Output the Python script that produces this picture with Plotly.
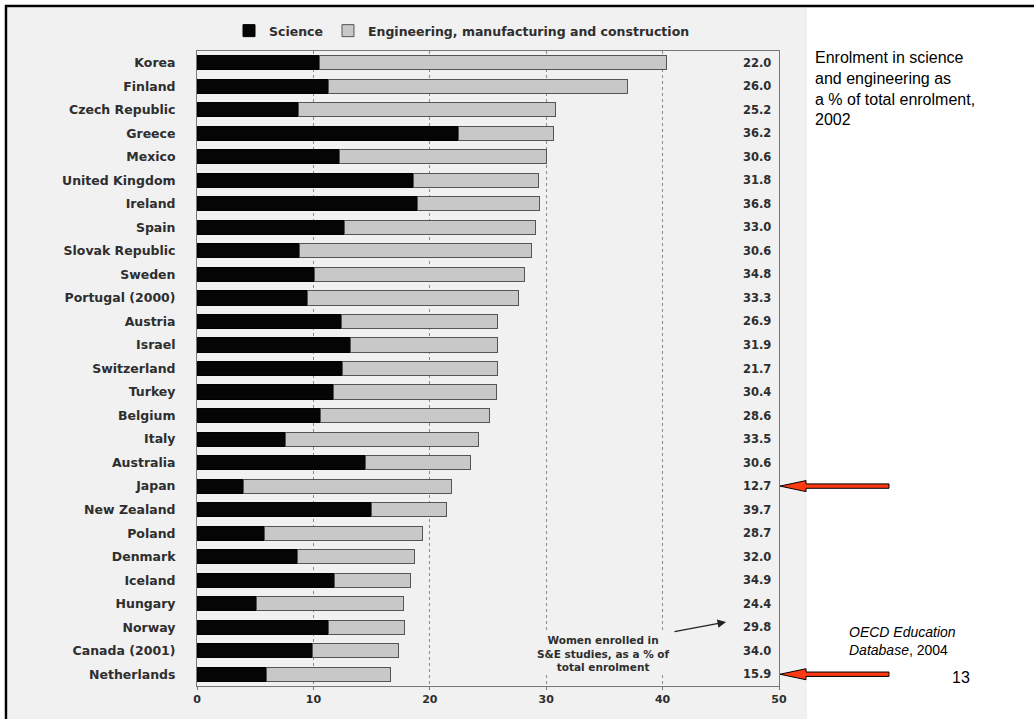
import plotly.graph_objects as go

# Countries, top to bottom
countries = [
    "Korea", "Finland", "Czech Republic", "Greece", "Mexico", "United Kingdom",
    "Ireland", "Spain", "Slovak Republic", "Sweden", "Portugal (2000)", "Austria",
    "Israel", "Switzerland", "Turkey", "Belgium", "Italy", "Australia", "Japan",
    "New Zealand", "Poland", "Denmark", "Iceland", "Hungary", "Norway",
    "Canada (2001)", "Netherlands",
]

# Share of total enrolment (%)
science = [
    10.5, 11.3, 8.7, 22.5, 12.2, 18.6, 18.9, 12.7, 8.8, 10.1, 9.5, 12.4, 13.2,
    12.5, 11.7, 10.6, 7.6, 14.5, 4.0, 15.0, 5.8, 8.6, 11.8, 5.1, 11.3, 9.9, 6.0,
]
engineering = [
    29.8, 25.7, 22.1, 8.1, 17.8, 10.7, 10.5, 16.4, 19.9, 18.0, 18.1, 13.4, 12.6,
    13.3, 14.0, 14.5, 16.6, 9.0, 17.9, 6.4, 13.6, 10.1, 6.5, 12.6, 6.5, 7.4, 10.6,
]

# Women enrolled in S&E studies, as a % of total enrolment
women_share = [
    "22.0", "26.0", "25.2", "36.2", "30.6", "31.8", "36.8", "33.0", "30.6",
    "34.8", "33.3", "26.9", "31.9", "21.7", "30.4", "28.6", "33.5", "30.6",
    "12.7", "39.7", "28.7", "32.0", "34.9", "24.4", "29.8", "34.0", "15.9",
]

x_ticks = [0, 10, 20, 30, 40, 50]
highlighted = ["Japan", "Netherlands"]

# Page geometry (pixels)
W, H = 1034, 719
ML, MR, MT, MB = 197, 255, 51, 33
PW, PH = W - ML - MR, H - MT - MB

BG = "#f1f1f1"
TXT = "#2e2e2e"
FONT = "DejaVu Sans"


def px_x(p):
    return (p - ML) / PW


def px_y(p):
    return (H - MB - p) / PH


n = len(countries)
y_range = [n - 0.5, -0.5]


def row_px(i):
    # pixel centre of category row i on the reversed axis
    return MT + (i - y_range[1]) / (y_range[0] - y_range[1]) * PH


fig = go.Figure()
fig.add_trace(go.Bar(
    y=countries, x=science, orientation="h", name="Science",
    marker=dict(color="#050505", line=dict(color="#000000", width=1)),
    width=0.6,
))
fig.add_trace(go.Bar(
    y=countries, x=engineering, orientation="h",
    name="Engineering, manufacturing and construction",
    marker=dict(color="#c8c8c8", line=dict(color="#555555", width=1)),
    width=0.6,
))

annotations = []
# value column on the right edge of the plot
for c, v in zip(countries, women_share):
    annotations.append(dict(
        x=50, y=c, xref="x", yref="y", text=v, showarrow=False,
        xanchor="right", xshift=-6,
        font=dict(family=FONT, size=11.5, color=TXT, weight="bold"),
    ))

# callout for the value column
annotations.append(dict(
    x=px_x(603), y=px_y(653), xref="paper", yref="paper",
    text="Women enrolled in<br>S&E studies, as a % of<br>total enrolment",
    showarrow=False, xanchor="center", yanchor="middle", align="center",
    bgcolor=BG, borderpad=1,
    font=dict(family=FONT, size=10.5, color=TXT, weight="bold"),
))
annotations.append(dict(
    x=px_x(726), y=px_y(622), xref="paper", yref="paper", text="",
    showarrow=True, ax=-53, ay=10, arrowhead=2, arrowsize=1.3,
    arrowwidth=1.3, arrowcolor="#222222",
))

# slide texts
annotations.append(dict(
    x=px_x(813), y=px_y(47), xref="paper", yref="paper",
    text="Enrolment in science<br>and engineering as<br>a % of total enrolment,<br>2002",
    showarrow=False, xanchor="left", yanchor="top", align="left",
    font=dict(family="Liberation Sans", size=16, color="#000000"),
))
annotations.append(dict(
    x=px_x(847), y=px_y(641), xref="paper", yref="paper",
    text="<i>OECD Education</i><br><i>Database</i>, 2004",
    showarrow=False, xanchor="left", yanchor="middle", align="left",
    font=dict(family="Liberation Sans", size=14, color="#000000"),
))
annotations.append(dict(
    x=px_x(961), y=px_y(677), xref="paper", yref="paper", text="13",
    showarrow=False, xanchor="center", yanchor="middle",
    font=dict(family="Liberation Sans", size=16, color="#000000"),
))

shapes = [
    # grey panel behind the chart
    dict(type="rect", xref="paper", yref="paper", layer="below",
         x0=px_x(8), x1=px_x(807), y0=px_y(725), y1=px_y(8),
         fillcolor=BG, line=dict(width=0)),
    # slide frame
    dict(type="rect", xref="paper", yref="paper", layer="above",
         x0=px_x(6), x1=px_x(1045), y0=px_y(730), y1=px_y(6),
         fillcolor="rgba(0,0,0,0)", line=dict(color="#000000", width=2.5)),
]

# red pointer arrows on highlighted rows
tip, tail, head_len, head_h, shaft_h = 780, 889, 26, 5.5, 2.2
for c in highlighted:
    yc = row_px(countries.index(c))
    pts = [
        (tip, yc), (tip + head_len, yc - head_h), (tip + head_len, yc - shaft_h),
        (tail, yc - shaft_h), (tail, yc + shaft_h), (tip + head_len, yc + shaft_h),
        (tip + head_len, yc + head_h),
    ]
    path = "M" + " L".join(f"{px_x(a):.5f},{px_y(b):.5f}" for a, b in pts) + " Z"
    shapes.append(dict(type="path", xref="paper", yref="paper", layer="above",
                       path=path, fillcolor="#ff3a12",
                       line=dict(color="#000000", width=1)))

fig.update_layout(
    width=W, height=H,
    margin=dict(l=ML, r=MR, t=MT, b=MB, pad=0),
    paper_bgcolor="#ffffff", plot_bgcolor=BG,
    barmode="stack", bargap=0.4,
    showlegend=True,
    legend=dict(
        orientation="h", x=px_x(229), y=px_y(31), xanchor="left", yanchor="middle",
        bgcolor="rgba(0,0,0,0)", traceorder="normal",
        font=dict(family=FONT, size=12.5, color=TXT, weight="bold"),
        itemwidth=30,
    ),
    xaxis=dict(
        range=[0, 50], tickvals=x_ticks, ticktext=[str(t) for t in x_ticks],
        showgrid=True, gridcolor="#8a8a8a", griddash="dot", gridwidth=1,
        showline=True, linecolor="#777777", linewidth=1, mirror=True,
        ticks="outside", ticklen=3, tickcolor="#777777",
        tickfont=dict(family=FONT, size=11, color=TXT, weight="bold"),
        zeroline=False, fixedrange=True,
    ),
    yaxis=dict(
        range=y_range, categoryorder="array", categoryarray=countries,
        showgrid=False, showline=True, linecolor="#777777", linewidth=1, mirror=True,
        ticks="", ticklabelstandoff=18,
        tickfont=dict(family=FONT, size=12.5, color=TXT, weight="bold"),
        fixedrange=True,
    ),
    annotations=annotations,
    shapes=shapes,
)

fig.write_html("out.html", config={"displayModeBar": False})
